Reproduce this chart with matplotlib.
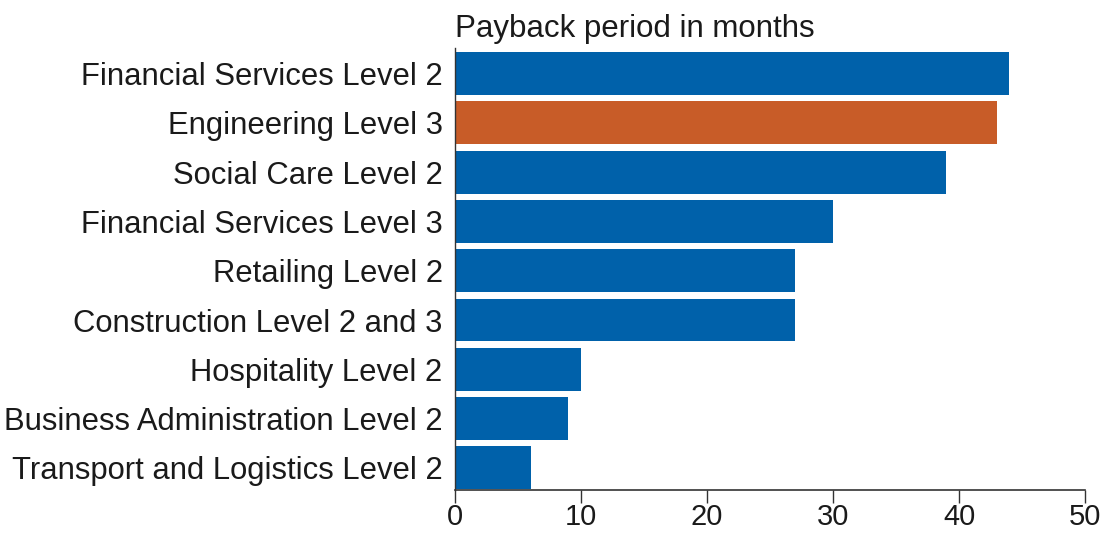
import matplotlib
matplotlib.use("Agg")
from matplotlib import pyplot as plt

categories = ['Financial Services Level 2', 'Engineering Level 3', 'Social Care Level 2',
              'Financial Services Level 3', 'Retailing Level 2', 'Construction Level 2 and 3',
              'Hospitality Level 2', 'Business Administration Level 2',
              'Transport and Logistics Level 2']
months = [44, 43, 39, 30, 27, 27, 10, 9, 6]
highlight = 'Engineering Level 3'

blue = '#0061aa'
orange = '#c85c28'

plt.rcParams['font.family'] = ['Liberation Sans', 'DejaVu Sans']

fig = plt.figure(figsize=(11.06, 5.35), dpi=100)
ax = fig.add_axes([455 / 1106, 1 - 490 / 535, 630 / 1106, 442 / 535])

colors = [orange if c == highlight else blue for c in categories]
ax.barh(range(len(categories)), months, height=0.87, color=colors)

ax.set_yticks(range(len(categories)))
ax.set_yticklabels(categories, fontsize=22.3, color='#1a1a1a')
ax.set_ylim(8.45, -0.52)
ax.set_xlim(0, 50)
ax.set_xticks([0, 10, 20, 30, 40, 50])
ax.tick_params(axis='x', labelsize=21, length=9, width=1.0, color='#333333',
               labelcolor='#1a1a1a', pad=0.5)
ax.tick_params(axis='y', length=0, pad=9)

for s in ['top', 'right']:
    ax.spines[s].set_visible(False)
ax.spines['left'].set_color('#333333')
ax.spines['bottom'].set_color('#333333')
ax.spines['left'].set_linewidth(1.0)
ax.spines['bottom'].set_linewidth(1.2)

ax.text(0, 1.01, 'Payback period in months', transform=ax.transAxes,
        fontsize=22.5, color='#1a1a1a', ha='left', va='bottom')

fig.savefig('out.png', dpi=100)
